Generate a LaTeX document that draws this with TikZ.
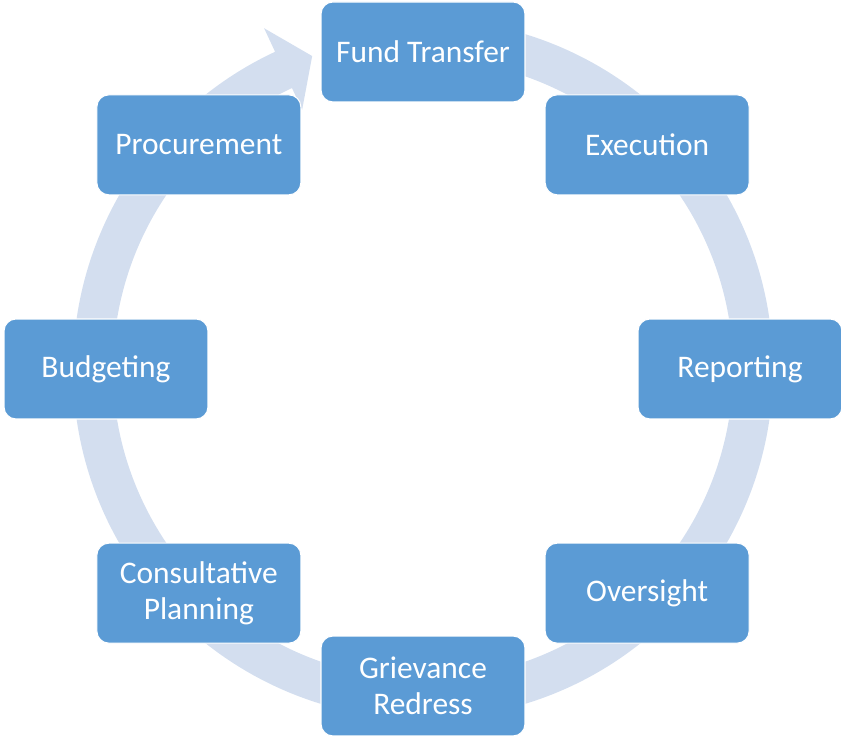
\documentclass[tikz,border=0pt]{standalone}
\usepackage{fontspec}
\setmainfont{Carlito}
\usepackage{tikz}
\usetikzlibrary{backgrounds}
\pgfdeclarelayer{background}
\pgfsetlayers{background,main}
\definecolor{stepblue}{HTML}{5B9BD5}
\definecolor{ringblue}{HTML}{D3DEEF}
\newcommand{\ringmid}[0]{317}

\begin{document}
\begin{tikzpicture}[x=0.02cm,y=0.02cm]
\tikzstyle{stage}=[draw=white,line width=0.6pt,fill=stepblue,rounded corners=0.24cm,
  minimum width=4.08cm,minimum height=2cm,inner sep=0pt,align=center,
  text=white,font=\fontsize{17.9}{20.5}\selectfont]
\useasboundingbox (-423,-367) rectangle (418,369);
\foreach \ang/\name/\txt in {
    90/fund/{Fund Transfer},
    45/exec/{Execution},
    0/report/{Reporting},
    -45/oversight/{Oversight},
    -90/grievance/{Grievance\\Redress},
    -135/consult/{Consultative\\Planning},
    180/budget/{Budgeting},
    135/procure/{Procurement}} {
  \node[stage] (\name) at (\ang:\ringmid) {\txt};
}
  \begin{pgfonlayer}{background}
\fill[ringblue] (95:350) arc[start angle=95, end angle=-245, radius=350]
  -- (-245:376) -- (-250.5:332) -- (-245:286) -- (-245:310)
  arc[start angle=-245, end angle=95, radius=310] -- cycle;
\end{pgfonlayer}

\end{tikzpicture}
\end{document}
